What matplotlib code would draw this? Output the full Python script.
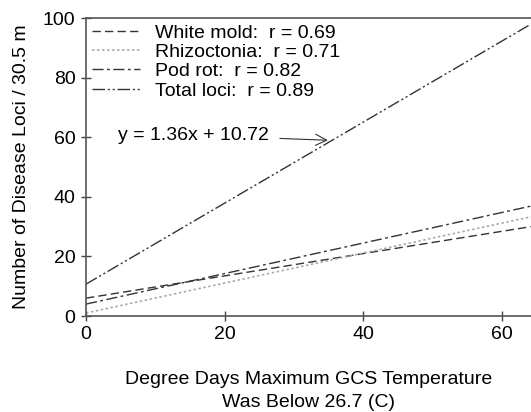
import matplotlib.pyplot as plt

plt.rcParams['font.family'] = ['Liberation Sans', 'DejaVu Sans']

# line endpoints (x = 0 and x = right edge)
x_ends = [0, 64.2]
white_mold = [6.0, 30.0]
rhizoctonia = [1.0, 33.3]
pod_rot = [4.0, 36.9]
total_loci = [10.7, 98.0]

labels = ["White mold:  r = 0.69", "Rhizoctonia:  r = 0.71",
          "Pod rot:  r = 0.82", "Total loci:  r = 0.89"]
equation = "y = 1.36x + 10.72"

fs = 14

fig = plt.figure(figsize=(5.31, 4.12), dpi=100)
ax = fig.add_axes([0.162, 0.233, 0.838, 0.723])

ax.plot(x_ends, white_mold, color="#333333", lw=1.0, dashes=(6, 3), label=labels[0])
ax.plot(x_ends, rhizoctonia, color="#aaaaaa", lw=1.2, dashes=(1.5, 1.5), label=labels[1])
ax.plot(x_ends, pod_rot, color="#333333", lw=1.0, dashes=(8, 2.5, 2, 2.5), label=labels[2])
ax.plot(x_ends, total_loci, color="#333333", lw=1.0,
        dashes=(9, 2, 1.5, 2, 1.5, 2), label=labels[3])

ax.annotate(equation, xy=(34.9, 59.0), xytext=(4.6, 60.7), fontsize=fs,
            va="center", ha="left",
            arrowprops=dict(arrowstyle="->", color="#333333", lw=0.8,
                            shrinkA=6, shrinkB=0, mutation_scale=20))

ax.set_xlim(x_ends)
ax.set_ylim(0, 100)
ax.set_xticks([0, 20, 40, 60])
ax.set_yticks([0, 20, 40, 60, 80, 100])
ax.tick_params(direction="inout", length=7, width=1, labelsize=fs,
               color="#444444", pad=4)
for side in ["left", "bottom", "top"]:
    ax.spines[side].set_color("#555555")
    ax.spines[side].set_linewidth(1.2)
ax.spines["right"].set_visible(False)

ax.set_ylabel("Number of Disease Loci / 30.5 m", fontsize=fs, labelpad=9)
ax.set_xlabel("Degree Days Maximum GCS Temperature\nWas Below 26.7 (C)",
              fontsize=fs, labelpad=20, linespacing=1.45)

ax.legend(loc="upper left", bbox_to_anchor=(0.0, 1.0), frameon=False,
          fontsize=fs, handlelength=2.5, handletextpad=0.75,
          labelspacing=0.09, borderpad=0.2, borderaxespad=0.1)

fig.savefig("out.png", dpi=100)
